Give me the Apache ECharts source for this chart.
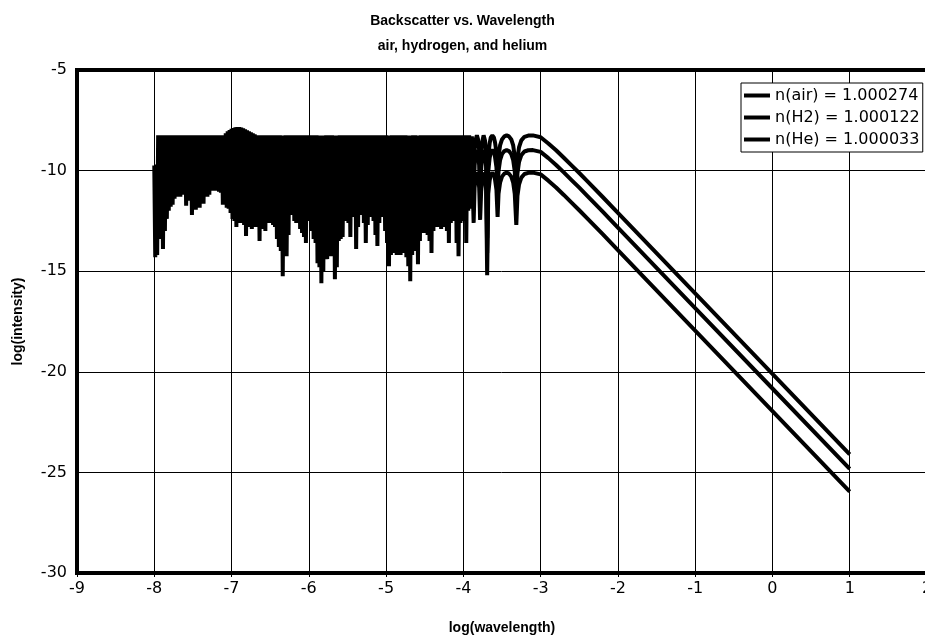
<!DOCTYPE html>
<html>
<head>
<meta charset="utf-8">
<title>Backscatter vs. Wavelength</title>
<script src="https://cdn.jsdelivr.net/npm/echarts@6.0.0/dist/echarts.min.js"></script>
<style>
    html, body { margin: 0; padding: 0; background: #fff; }
    #main { width: 925px; height: 642px; }
</style>
</head>
<body>
<div id="main"></div>
<script>
var seriesNames = ['n(air) = 1.000274', 'n(H2) = 1.000122', 'n(He) = 1.000033'];

// dense oscillating part (air), sampled every 0.025 in log(wavelength):
// each sample goes up to the top level and down to the low value read off the picture
var noiseStartX = -8.0;
var noiseStepX = 0.025;
var noiseTop = -8.25;
var noiseTopOverride = [
    [-8.0, -9.75], [-7.975, -9.7],
    [-7.075, -8.15], [-7.05, -8.05], [-7.025, -7.98], [-7.0, -7.92], [-6.975, -7.88],
    [-6.95, -7.85], [-6.925, -7.84], [-6.9, -7.84], [-6.875, -7.86], [-6.85, -7.9],
    [-6.825, -7.95], [-6.8, -8.0], [-6.775, -8.05], [-6.75, -8.1], [-6.725, -8.15], [-6.7, -8.2]
];
var noiseLow = [
    -14.3, -14.2, -13.4, -13.2, -13.9, -13.0, -12.4, -12.0,
    -11.8, -11.7, -11.4, -11.3, -11.3, -11.3, -11.2, -10.9,
    -11.75, -11.5, -11.4, -12.2, -11.5, -11.95, -11.5, -11.85,
    -11.4, -11.65, -11.3, -11.3, -11.2, -11.0, -10.9, -11.0,
    -11.0, -11.05, -11.1, -11.7, -11.3, -11.85, -11.9, -12.1,
    -12.4, -12.5, -12.8, -12.4, -12.6, -12.6, -12.7, -13.25,
    -12.7, -12.8, -12.9, -12.8, -12.8, -12.7, -13.5, -12.9,
    -12.8, -13.0, -12.6, -12.5, -12.6, -12.7, -12.8, -13.4,
    -13.8, -14.0, -15.25, -14.0, -14.25, -13.2, -11.9, -12.2,
    -12.5, -12.6, -12.5, -12.9, -13.1, -13.3, -13.6, -12.5,
    -12.25, -13.0, -13.4, -13.6, -14.6, -14.8, -15.6, -15.0,
    -14.0, -14.4, -13.9, -14.25, -14.0, -15.4, -14.8, -13.5,
    -13.4, -13.3, -12.4, -12.5, -12.6, -13.3, -11.9, -12.3,
    -13.9, -12.8, -12.1, -12.2, -12.6, -13.6, -12.7, -12.25,
    -12.3, -12.5, -13.2, -13.75, -12.6, -12.25, -12.3, -13.0,
    -13.6, -14.75, -14.2, -14.0, -14.1, -14.2, -14.1, -14.2,
    -14.0, -14.1, -14.3, -14.75, -15.5, -14.2, -14.0, -13.9,
    -14.65, -13.5, -13.1, -13.1, -13.0, -13.2, -13.5, -14.1,
    -13.0, -12.8, -12.8, -12.7, -12.9, -12.8, -12.7, -13.0,
    -13.6, -12.6, -12.4, -12.5, -13.6, -14.25, -12.6, -12.4,
    -12.5, -13.6, -12.0, -11.9
];

// lobes and long-wavelength fall-off, shared x for the three gases
var tailX = [
    -3.90, -3.89, -3.88, -3.867, -3.855, -3.84, -3.825, -3.81, -3.795, -3.783,
    -3.77, -3.755, -3.738, -3.72, -3.705, -3.692, -3.678, -3.66, -3.645, -3.625,
    -3.605, -3.59, -3.572, -3.557, -3.545, -3.525, -3.50, -3.47, -3.44, -3.41,
    -3.38, -3.355, -3.335, -3.315, -3.30, -3.28, -3.25, -3.21, -3.16, -3.10,
    -3.0, -2.9, -2.8, -2.7, -2.6, -2.5, -2.4, -2.2, -2.0, -1.0, 0, 1.0
];
var airTail = [
    -8.9, -8.3, -8.9, -10.75, -9.0, -8.45, -8.25, -8.45, -9.0, -10.6,
    -9.2, -8.55, -8.25, -8.5, -9.1, -13.35, -9.3, -8.65, -8.35, -8.25,
    -8.35, -8.6, -9.1, -10.45, -9.3, -8.75, -8.45, -8.3, -8.25, -8.3,
    -8.45, -8.75, -9.3, -10.85, -9.4, -8.85, -8.5, -8.32, -8.26, -8.25,
    -8.34, -8.65, -8.99, -9.36, -9.74, -10.12, -10.51, -11.3, -12.1, -16.1, -20.1, -24.1
];
var h2Tail = [
    -9.63, -9.03, -9.63, -11.5, -9.73, -9.18, -8.98, -9.18, -9.73, -11.35,
    -9.93, -9.28, -8.98, -9.23, -9.83, -14.1, -10.03, -9.38, -9.08, -8.98,
    -9.08, -9.33, -9.83, -11.2, -10.03, -9.48, -9.18, -9.03, -8.98, -9.03,
    -9.18, -9.48, -10.03, -11.6, -10.13, -9.58, -9.23, -9.05, -8.99, -8.98,
    -9.07, -9.38, -9.72, -10.09, -10.47, -10.85, -11.24, -12.03, -12.83, -16.83, -20.83, -24.83
];
var heTail = [
    -10.75, -10.15, -10.75, -12.6, -10.85, -10.3, -10.1, -10.3, -10.85, -12.45,
    -11.05, -10.4, -10.1, -10.35, -10.95, -15.2, -11.15, -10.5, -10.2, -10.1,
    -10.2, -10.45, -10.95, -12.3, -11.15, -10.6, -10.3, -10.15, -10.1, -10.15,
    -10.3, -10.6, -11.15, -12.7, -11.25, -10.7, -10.35, -10.17, -10.11, -10.1,
    -10.19, -10.5, -10.84, -11.21, -11.59, -11.97, -12.36, -13.15, -13.95, -17.95, -21.95, -25.95
];

function topAt(x) {
    for (var k = 0; k < noiseTopOverride.length; k++) {
        if (Math.abs(noiseTopOverride[k][0] - x) < 0.001) return noiseTopOverride[k][1];
    }
    return noiseTop;
}

var airData = [];
for (var i = 0; i < noiseLow.length; i++) {
    var x = noiseStartX + i * noiseStepX;
    airData.push([x, topAt(x)]);
    airData.push([x + noiseStepX / 2, noiseLow[i]]);
}
var h2Data = [];
var heData = [];
for (var j = 0; j < tailX.length; j++) {
    airData.push([tailX[j], airTail[j]]);
    h2Data.push([tailX[j], h2Tail[j]]);
    heData.push([tailX[j], heTail[j]]);
}

var myChart = echarts.init(document.getElementById('main'));

var boldFont = "'Liberation Sans', Arial, sans-serif";

function lineSeries(name, data) {
    return {
        name: name,
        type: 'line',
        data: data,
        symbol: 'none',
        showSymbol: false,
        animation: false,
        color: '#000',
        lineStyle: { color: '#000', width: 4, join: 'bevel' },
        itemStyle: { color: '#000' }
    };
}

var option = {
    backgroundColor: '#fff',
    animation: false,
    title: {
        text: 'Backscatter vs. Wavelength\nair, hydrogen, and helium',
        left: 'center',
        top: 4,
        textStyle: {
            fontFamily: boldFont,
            fontWeight: 'bold',
            fontSize: 14,
            lineHeight: 25,
            color: '#000'
        }
    },
    legend: {
        data: seriesNames,
        orient: 'vertical',
        left: 741,
        top: 83,
        backgroundColor: '#fff',
        borderColor: '#000',
        borderWidth: 1,
        padding: [3, 3, 3, 3],
        itemGap: 3,
        itemWidth: 26,
        itemHeight: 4,
        icon: 'rect',
        textStyle: { fontFamily: 'DejaVu Sans', fontSize: 16, color: '#000', lineHeight: 19 }
    },
    grid: {
        left: 77,
        top: 70,
        width: 850,
        height: 503,
        outerBoundsMode: 'none',
        containLabel: false,
        show: true,
        borderColor: '#000',
        borderWidth: 4,
        backgroundColor: 'transparent'
    },
    xAxis: {
        type: 'value',
        min: -9,
        max: 2,
        interval: 1,
        name: 'log(wavelength)',
        nameLocation: 'middle',
        nameGap: 48,
        nameTextStyle: { fontFamily: boldFont, fontWeight: 'bold', fontSize: 14, color: '#000' },
        axisLine: { show: false },
        axisTick: { show: true, length: 4, lineStyle: { color: '#000' } },
        axisLabel: { color: '#000', fontFamily: 'DejaVu Sans', fontSize: 16, margin: 8 },
        splitLine: { show: true, lineStyle: { color: '#000', width: 1 } }
    },
    yAxis: {
        type: 'value',
        min: -30,
        max: -5,
        interval: 5,
        name: 'log(intensity)',
        nameLocation: 'middle',
        nameGap: 52,
        nameTextStyle: { fontFamily: boldFont, fontWeight: 'bold', fontSize: 14, color: '#000' },
        axisLine: { show: false },
        axisTick: { show: true, length: 4, lineStyle: { color: '#000' } },
        axisLabel: { color: '#000', fontFamily: 'DejaVu Sans', fontSize: 16, margin: 10 },
        splitLine: { show: true, lineStyle: { color: '#000', width: 1 } }
    },
    series: [
        lineSeries(seriesNames[0], airData),
        lineSeries(seriesNames[1], h2Data),
        lineSeries(seriesNames[2], heData)
    ]
};

myChart.setOption(option);
window.addEventListener('resize', function () {
    myChart.resize();
});
</script>
</body>
</html>
